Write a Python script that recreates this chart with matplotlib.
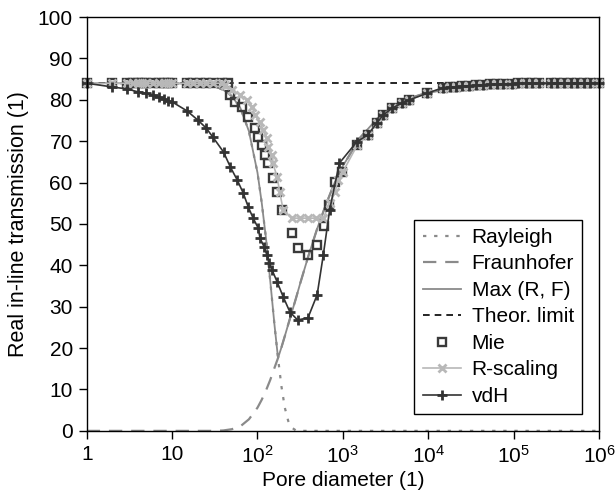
import numpy as np
import matplotlib.pyplot as plt

plt.rcParams['font.family'] = ['Liberation Sans', 'DejaVu Sans']
plt.rcParams['mathtext.fontset'] = 'custom'
plt.rcParams['mathtext.rm'] = 'Liberation Sans'
plt.rcParams['mathtext.it'] = 'Liberation Sans'

# model curves (common diameter grid)
d_model = [1, 3.16, 10, 20, 31.6, 39.8, 50.1, 63.1, 79.4, 100, 112, 126, 141, 158, 174,
           191, 209, 229, 251, 282, 316, 398, 501, 631, 794, 1000, 1585, 2512, 3981,
           6310, 10000, 31620, 100000, 316200, 1000000]
rayleigh = [84, 84, 84, 83.8, 83.2, 82.4, 80.9, 78.0, 72.4, 62.4, 55.2, 46.4, 36.3, 25.7, 17.6,
            10.7, 5.6, 2.4, 0.8, 0.1, 0, 0, 0, 0, 0, 0, 0, 0, 0,
            0, 0, 0, 0, 0, 0]
fraunhofer = [0, 0, 0, 0, 0, 0.1, 0.4, 1.1, 2.8, 5.6, 7.5, 9.8, 12.3, 15.2, 17.6,
              20.2, 22.9, 25.7, 28.5, 32.0, 35.6, 42.5, 48.9, 54.6, 59.8, 64.0, 70.8, 75.4, 78.5,
              80.5, 81.8, 83.3, 83.8, 84, 84]
max_rf = [84, 84, 84, 83.8, 83.2, 82.4, 80.9, 78.0, 72.4, 62.4, 55.2, 46.4, 36.3, 25.7, 17.6,
          20.2, 22.9, 25.7, 28.5, 32.0, 35.6, 42.5, 48.9, 54.6, 59.8, 64.0, 70.8, 75.4, 78.5,
          80.5, 81.8, 83.3, 83.8, 84, 84]
theor_d = [1, 1000000]
theor_limit = [84, 84]

# Mie calculation
d_mie = [1, 2, 3, 3.5, 4, 4.5, 5, 6, 7, 8, 9, 10, 15, 17.5, 21, 25, 30, 38, 45,
         48, 55, 66, 78, 93, 102, 112, 123, 132, 151, 170, 195, 251, 295, 389, 501,
         603, 692, 813, 977, 1480, 1950, 2510, 2950, 3800, 4900, 6030, 9770,
         14800, 17800, 21400, 25100, 30200, 36300, 43700, 52500, 63100, 74100,
         95500, 112000, 141000, 166000, 200000, 275000, 324000, 389000, 468000,
         550000, 660000, 794000, 1000000]
mie = [84, 84, 84, 84, 84, 84, 84, 84, 84, 84, 84, 84, 84, 84, 84, 84, 84, 84, 84,
       81.2, 79.5, 78.3, 75.8, 73.2, 71.0, 69.1, 66.7, 64.7, 61.1, 57.7, 53.4, 47.8, 44.2, 42.5, 44.9,
       49.5, 54.6, 60.1, 62.6, 69.1, 71.5, 74.4, 76.3, 78.0, 79.2, 80.0, 81.6,
       82.9, 83.0, 83.1, 83.3, 83.4, 83.5, 83.6, 83.7, 83.8, 83.8,
       83.9, 84, 84, 84, 84, 84, 84, 84, 84,
       84, 84, 84, 84]

# R-scaling
d_rs = [1, 2, 3, 3.5, 4, 4.5, 5, 6, 7, 8, 9, 10, 15, 17.5, 21, 25, 30, 38,
        42, 50, 63, 76, 87, 93, 107, 117, 129, 132, 148, 151, 170, 182, 200,
        251, 316, 389, 479, 589, 708, 813, 871, 1000, 1480, 1950, 2510, 2950,
        3800, 4900, 6030, 9770, 14800, 17800, 21400, 25100, 30200, 36300, 43700,
        52500, 63100, 74100, 95500, 112000, 141000, 166000, 200000, 275000,
        324000, 389000, 468000, 550000, 660000, 794000, 1000000]
r_scaling = [84, 84, 84, 84, 84, 84, 84, 84, 84, 84, 84, 84, 84, 84, 84, 84, 84, 84,
             83.6, 82.4, 81.2, 80.0, 78.3, 76.3, 74.6, 72.7, 70.8, 68.6, 66.7, 64.7, 61.4, 57.7, 53.4,
             51.4, 51.4, 51.4, 51.4, 51.4, 55.1, 57.7, 60.6, 62.6, 69.1, 71.5, 74.4, 76.3,
             78.0, 79.2, 80.0, 81.6, 82.9, 83.0, 83.1, 83.3, 83.4, 83.5, 83.6,
             83.7, 83.8, 83.8, 83.9, 84, 84, 84, 84, 84,
             84, 84, 84, 84, 84, 84, 84]

# van de Hulst
d_vdh = [1, 2, 3, 4, 5, 6, 7, 8, 9, 10, 15, 20, 25, 30, 40, 48, 58, 68, 78, 89,
         102, 107, 120, 129, 138, 148, 170, 200, 240, 295, 390, 500, 590, 700, 910,
         1450, 1950, 2510, 2950, 3800, 4900, 6030, 9770, 14800, 17800, 21400, 25100,
         30200, 36300, 43700, 52500, 63100, 74100, 95500, 112000, 141000, 166000,
         200000, 275000, 324000, 389000, 468000, 550000, 660000, 794000, 1000000]
vdh = [84, 83.1, 82.6, 81.9, 81.6, 81.2, 80.7, 80.2, 79.7, 79.5, 77.3, 75.1, 73.2, 71.0, 67.4,
       63.8, 60.6, 57.5, 54.1, 51.4, 49.0, 46.6, 44.4, 42.5, 40.6, 38.9, 36.0, 32.4, 28.7, 26.8,
       27.3, 32.9, 42.5, 53.4, 64.7, 69.8, 71.5, 74.4, 76.3, 78.0, 79.2, 80.0, 81.6, 82.9,
       83.0, 83.1, 83.3, 83.4, 83.5, 83.6, 83.7, 83.8, 83.8, 83.9, 84, 84, 84,
       84, 84, 84, 84, 84, 84, 84, 84, 84]

fig = plt.figure(figsize=(6.15, 5.01), dpi=100)
ax = fig.add_axes([0.141, 0.140, 0.833, 0.826])

gray = '#8a8a8a'
ax.plot(d_model, rayleigh, color=gray, lw=1.6, dashes=(1.5, 3.5), label='Rayleigh')
ax.plot(d_model, fraunhofer, color=gray, lw=1.6, dashes=(6, 4), label='Fraunhofer')
ax.plot(d_model, max_rf, color=gray, lw=1.3, label='Max (R, F)')
ax.plot(theor_d, theor_limit, color='black', lw=1.2, dashes=(4, 3), label='Theor. limit')
ax.plot(d_mie, mie, ls='none', marker='s', ms=6, mfc='none', mec='#3a3a3a', mew=1.7,
        label='Mie', clip_on=False)
ax.plot(d_rs, r_scaling, color='#b8b8b8', lw=1.2, marker='x', ms=5.5, mew=2,
        label='R-scaling', clip_on=False)
ax.plot(d_vdh, vdh, color='#333333', lw=1.2, marker='+', ms=6.5, mew=2,
        label='vdH', clip_on=False)

ax.set_xscale('log')
ax.set_xlim(1, 1e6)
ax.set_ylim(0, 100)
ax.set_xticks([1, 10, 1e2, 1e3, 1e4, 1e5, 1e6])
ax.set_xticklabels(['1', '10', '$10^2$', '$10^3$', '$10^4$', '$10^5$', '$10^6$'])
ax.minorticks_off()
ax.set_yticks(range(0, 101, 10))
ax.tick_params(direction='out', length=6, width=1, labelsize=15, pad=4)
for s in ax.spines.values():
    s.set_linewidth(1)

ax.set_xlabel('Pore diameter (1)', fontsize=15, labelpad=3)
ax.set_ylabel('Real in-line transmission (1)', fontsize=15.5, labelpad=6)

leg = ax.legend(loc='lower right', fontsize=15, frameon=True, fancybox=False,
                edgecolor='black', framealpha=1, handlelength=1.85, handletextpad=0.5,
                labelspacing=0.36, borderaxespad=0.8, borderpad=0.4)
leg.get_frame().set_linewidth(1)

plt.savefig('out.png', dpi=100)
